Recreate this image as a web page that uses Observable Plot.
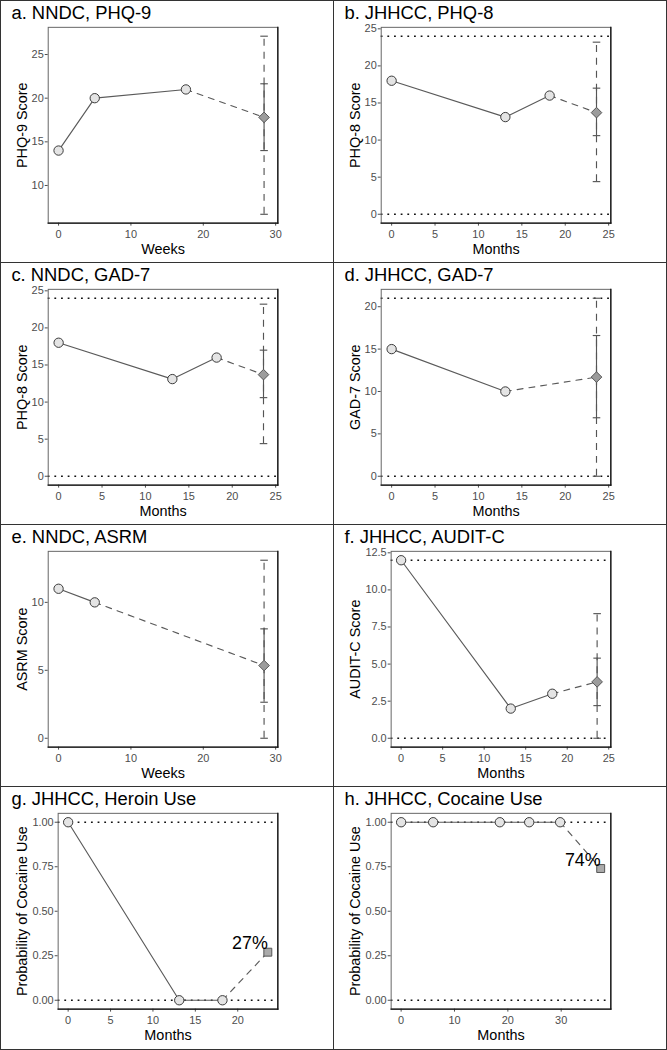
<!DOCTYPE html>
<html>
<head>
<meta charset="utf-8">
<script src="https://cdn.jsdelivr.net/npm/d3@7"></script>
<script src="https://cdn.jsdelivr.net/npm/@observablehq/plot@0.6"></script>
<style>
  body { margin: 0; background: #fff; }
  #fig { position: relative; width: 667px; height: 1050px; background: #fff; }
  .panel { position: absolute; box-sizing: border-box; border: 1px solid #333; }
  .panel svg { position: absolute; left: -1px; top: -1px; }
</style>
</head>
<body>
<div id="fig"></div>
<script>
// ---------------- data ----------------
const panelTitles = ["a. NNDC, PHQ-9", "b. JHHCC, PHQ-8", "c. NNDC, GAD-7", "d. JHHCC, GAD-7",
                     "e. NNDC, ASRM", "f. JHHCC, AUDIT-C", "g. JHHCC, Heroin Use", "h. JHHCC, Cocaine Use"];
const xAxisTitles = ["Weeks", "Months", "Months", "Months", "Weeks", "Months", "Months", "Months"];
const yAxisTitles = ["PHQ-9 Score", "PHQ-8 Score", "PHQ-8 Score", "GAD-7 Score", "ASRM Score",
                     "AUDIT-C Score", "Probability of Cocaine Use", "Probability of Cocaine Use"];

const obsTimes = [[0, 5, 17.6], [0, 13.1, 18.2], [0, 13.1, 18.2], [0, 13.1], [0, 5],
                  [0, 13.2, 18.2], [0, 13.1, 18.2], [0, 6, 18.5, 24, 29.8]];
const obsValues = [[14, 20, 21], [18, 13.1, 16], [18, 13.1, 16], [15, 10], [11, 10],
                   [12, 2, 3], [1, 0, 0], [1, 1, 1, 1, 1]];
const predTimes = [28.4, 23.6, 23.6, 23.6, 28.4, 23.6, 23.55, 37.4];
const predValues = [17.8, 13.7, 13.7, 11.7, 5.35, 3.8, 0.27, 0.74];
const innerLow = [14, 10.6, 10.6, 6.9, 2.65, 2.2, null, null];
const innerHigh = [21.65, 17, 17, 16.6, 8.05, 5.4, null, null];
const outerLow = [6.7, 4.4, 4.4, 0, 0, 0, null, null];
const outerHigh = [27.1, 23.2, 23.2, 21, 13.1, 8.4, null, null];
const refLines = [[], [0, 24], [0, 24], [0, 21], [], [0, 12], [0, 1], [0, 1]];
const predLabels = ["", "", "", "", "", "", "27%", "74%"];

const xTicks = [[0, 10, 20, 30], [0, 5, 10, 15, 20, 25], [0, 5, 10, 15, 20, 25], [0, 5, 10, 15, 20, 25],
                [0, 10, 20, 30], [0, 5, 10, 15, 20, 25], [0, 5, 10, 15, 20], [0, 10, 20, 30]];
const yTicks = [[10, 15, 20, 25], [0, 5, 10, 15, 20, 25], [0, 5, 10, 15, 20, 25], [0, 5, 10, 15, 20],
                [0, 5, 10], [0, 2.5, 5, 7.5, 10, 12.5], [0, 0.25, 0.5, 0.75, 1], [0, 0.25, 0.5, 0.75, 1]];
const yTickFormats = [null, null, null, null, null, ".1f", ".2f", ".2f"];

// ---------------- scale configuration ----------------
const xDomains = [[-1.43, 30.3], [-1.2, 25.25], [-1.2, 25.25], [-1.2, 25.25],
                  [-1.43, 30.3], [-1.2, 25.25], [-1.18, 24.73], [-1.87, 39.3]];
const yDomains = [[5.685, 28.115], [-1.2, 25.2], [-1.2, 25.2], [-1.05, 22.05],
                  [-0.655, 13.755], [-0.6, 12.6], [-0.05, 1.05], [-0.05, 1.05]];

// horizontal cap symbol for error bars
const capSymbol = {
  draw(ctx, size) {
    const w = Math.sqrt(size / Math.PI);
    ctx.moveTo(-w, 0);
    ctx.lineTo(w, 0);
  }
};

const fig = document.getElementById("fig");
const W = 334, H = 263;
const lineColor = "#5a5a5a";
const barColor = "#555";

for (let i = 0; i < 8; i++) {
  const col = i % 2, row = Math.floor(i / 2);
  const div = document.createElement("div");
  div.className = "panel";
  div.style.left = (col * 333) + "px";
  div.style.top = (row * 262) + "px";
  div.style.width = "334px";
  div.style.height = (row === 3 ? 264 : 263) + "px";
  fig.appendChild(div);

  const ml = i >= 5 ? 58 : 48;
  const mt = 27, mb = H - 224, mr = W - 279;

  const obs = obsTimes[i].map((t, j) => ({t, v: obsValues[i][j]}));
  const pred = {t: predTimes[i], v: predValues[i]};
  const link = [obs[obs.length - 1], pred];
  const hasCI = innerLow[i] != null;

  const marks = [];
  marks.push(Plot.ruleY(refLines[i], {stroke: "#111", strokeWidth: 1.6, strokeDasharray: "1.8,4.9"}));
  marks.push(Plot.line(obs, {x: "t", y: "v", stroke: lineColor, strokeWidth: 1.15}));
  marks.push(Plot.line(link, {x: "t", y: "v", stroke: lineColor, strokeWidth: 1.15, strokeDasharray: "6,6"}));
  if (hasCI) {
    const ci = [{t: pred.t, ol: outerLow[i], oh: outerHigh[i], il: innerLow[i], ih: innerHigh[i]}];
    marks.push(Plot.ruleX(ci, {x: "t", y1: "ol", y2: "oh", stroke: barColor, strokeWidth: 1.15, strokeDasharray: "7,6"}));
    marks.push(Plot.ruleX(ci, {x: "t", y1: "il", y2: "ih", stroke: barColor, strokeWidth: 1.15}));
    const caps = [outerLow, outerHigh, innerLow, innerHigh].map(a => ({t: pred.t, v: a[i]}));
    marks.push(Plot.dot(caps, {x: "t", y: "v", symbol: capSymbol, r: 3.8, stroke: barColor, strokeWidth: 1.15, fill: "none"}));
  }
  marks.push(Plot.dot(obs, {x: "t", y: "v", r: 4.7, fill: "#e4e4e4", stroke: "#3a3a3a", strokeWidth: 1}));
  marks.push(Plot.dot([pred], {
    x: "t", y: "v",
    symbol: hasCI ? "diamond2" : "square",
    r: hasCI ? 4.8 : 4.5,
    fill: hasCI ? "#9c9c9c" : "#ababab",
    stroke: "#555", strokeWidth: 1
  }));
  if (predLabels[i]) {
    marks.push(Plot.text([pred], {x: "t", y: "v", text: () => predLabels[i], textAnchor: "end",
      lineAnchor: "bottom", dy: -3, fontSize: 18, fill: "black"}));
  }
  marks.push(Plot.frame({stroke: "#666"}));
  marks.push(Plot.frame({anchor: "bottom", stroke: "#111", strokeWidth: 1.3}));
  marks.push(Plot.frame({anchor: "right", stroke: "#111", strokeWidth: 1.3}));
  // titles and axis titles
  marks.push(Plot.text([panelTitles[i]], {frameAnchor: "top-left", dx: 11 - ml, dy: 19 - mt,
    textAnchor: "start", lineAnchor: "bottom", fontSize: 18.5, fill: "black"}));
  marks.push(Plot.text([xAxisTitles[i]], {frameAnchor: "bottom", dy: 26, textAnchor: "middle",
    lineAnchor: "middle", fontSize: 14.5, fill: "black"}));
  marks.push(Plot.text([yAxisTitles[i]], {frameAnchor: "left", dx: 22.5 - ml, rotate: -90,
    textAnchor: "middle", lineAnchor: "middle", fontSize: 14.5, fill: "black"}));

  const yOpts = {domain: yDomains[i], ticks: yTicks[i], tickSize: 3, tickPadding: 1.5, label: null};
  if (yTickFormats[i]) yOpts.tickFormat = d3.format(yTickFormats[i]);

  const svg = Plot.plot({
    width: W, height: H,
    marginLeft: ml, marginRight: mr, marginTop: mt, marginBottom: mb,
    style: {fontFamily: "'Liberation Sans', Arial, sans-serif", fontSize: "11px", color: "#4d4d4d", background: "transparent", overflow: "visible"},
    x: {domain: xDomains[i], ticks: xTicks[i], tickSize: 3, tickPadding: 4, label: null},
    y: yOpts,
    marks
  });
  div.appendChild(svg);
}
</script>
</body>
</html>
